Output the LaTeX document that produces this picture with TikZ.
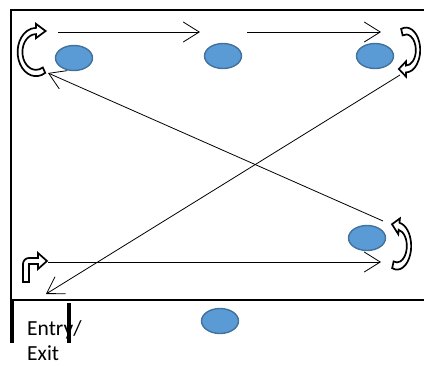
\documentclass[tikz,border=0pt]{standalone}
\usepackage{fontspec}
\setmainfont{Carlito}
\usetikzlibrary{shapes.geometric,arrows.meta,calc}
\definecolor{dotfill}{HTML}{5B9BD5}
\definecolor{dotline}{HTML}{41719C}
\tikzset{
  dot/.style={ellipse, inner sep=0pt, minimum width=37pt, minimum height=25pt, fill=dotfill, draw=dotline, line width=1.4pt},
  conn/.style={draw, line width=0.8pt, -{Straight Barb[length=16pt,width=20pt]}},
  cblk/.style={draw=black, fill=white, line width=1.7pt, line join=miter},
  border/.style={draw, line width=2pt},
  post/.style={draw, line width=3.5pt},
  lbl/.style={inner sep=0pt, anchor=base west, font=\fontsize{21.5}{26}\selectfont}
}
% curved block arrow: cx cy rx ry tailangle headangle tipdir bandhalf headhalf
\newcommand{\cblock}[9]{%
  \begin{scope}[shift={(#1,#2)}, x=#3pt, y=-#4pt]
    \pgfmathsetmacro\cbRo{1+#8}%
    \pgfmathsetmacro\cbRi{1-#8}%
    \pgfmathsetmacro\cbHo{1+#9}%
    \pgfmathsetmacro\cbHi{1-#9}%
    \draw[cblk] (#5:\cbRo) arc[start angle=#5, end angle=#6, radius=\cbRo]
      -- (#6:\cbHo) -- ($(#6:1)+(#7:0.6)$) -- (#6:\cbHi) -- (#6:\cbRi)
      arc[start angle=#6, end angle=#5, radius=\cbRi] -- cycle;
  \end{scope}}
\begin{document}
\begin{tikzpicture}[x=1pt, y=-1pt]
  \useasboundingbox (0,0) rectangle (424,365);
  % frame
  \draw[border] (424,10) -- (11,10) -- (11,300) -- (424,300);
  % stations
  \node[dot] (e1) at (74,58) {};
  \node[dot] (e2) at (223,56) {};
  \node[dot] (e3) at (375,56) {};
  \node[dot] (e4) at (367,238) {};
  \node[dot] (e5) at (220,321) {};
  % connector end points
  \coordinate (a1s) at (58,32);
  \coordinate (a1e) at (200,32);
  \coordinate (a2s) at (247,32);
  \coordinate (a2e) at (381,32);
  \coordinate (a3s) at (383,221);
  \coordinate (a3e) at (48,73);
  \coordinate (a4s) at (400,75);
  \coordinate (a4e) at (46,294);
  \coordinate (a5s) at (48,262);
  \coordinate (a5e) at (381,262);
  \draw[conn] (a1s) -- (a1e);
  \draw[conn] (a2s) -- (a2e);
  \draw[conn] (a3s) -- (a3e);
  \draw[conn] (a4s) -- (a4e);
  \draw[conn] (a5s) -- (a5e);
  % curved turn arrows
  \cblock{36}{52}{16}{21}{60}{270}{0}{0.15}{0.34}
  \cblock{406}{50}{12}{19}{-110}{90}{180}{0.18}{0.4}
  \cblock{397}{246}{12}{20}{110}{-80}{-170}{0.18}{0.4}
  % bent start arrow
  \draw[cblk] (23,282) -- (23,264) arc[start angle=180, end angle=270, radius=6]
    -- (38,258) -- (38,253) -- (47,261) -- (38,269) -- (38,264) -- (29,264) -- (29,282) -- cycle;
  % entry / exit
  \node[lbl] (entry) at (27,335) {Entry/};
  \node[lbl] (exit) at (27,360) {Exit};
  \draw[post] (12,300) -- (12,343);
  \draw[post] (69,303) -- (69,343);
\end{tikzpicture}
\end{document}
